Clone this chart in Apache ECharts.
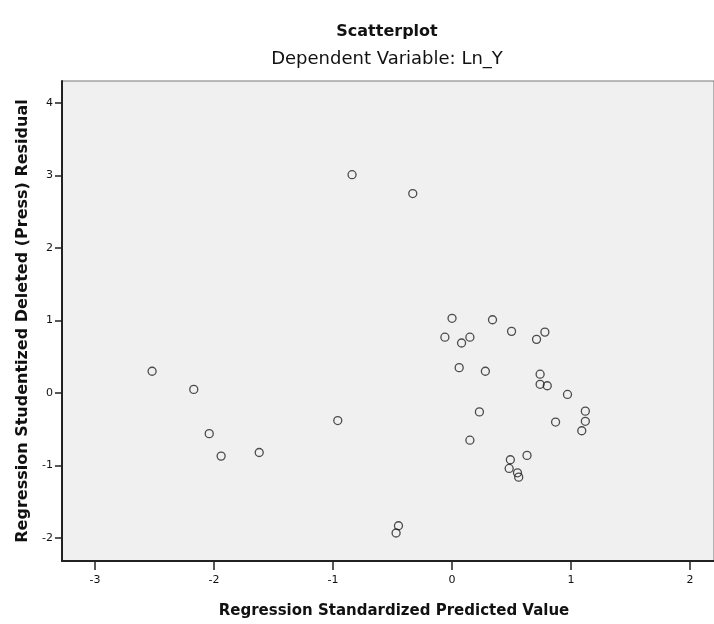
<!DOCTYPE html>
<html>
<head>
<meta charset="utf-8">
<script src="https://cdn.jsdelivr.net/npm/echarts@6/dist/echarts.min.js"></script>
<style>
html, body { margin: 0; padding: 0; background: #fff; }
#main { width: 714px; height: 624px; }
</style>
</head>
<body>
<div id="main"></div>
<script>
// standardized predicted value (x) and studentized deleted residual (y)
var predicted = [-0.84, -0.33, -2.52, -2.17, -2.04, -1.94, -1.62, -0.96, -0.45, -0.47,
    0.00, 0.34, -0.06, 0.08, 0.15, 0.50, 0.71, 0.78, 0.06, 0.28,
    0.74, 0.74, 0.80, 0.97, 0.23, 0.87, 1.12, 1.12, 1.09, 0.15,
    0.63, 0.49, 0.48, 0.55, 0.56];
var residual = [3.01, 2.75, 0.30, 0.05, -0.56, -0.87, -0.82, -0.38, -1.83, -1.93,
    1.03, 1.01, 0.77, 0.69, 0.77, 0.85, 0.74, 0.84, 0.35, 0.30,
    0.26, 0.12, 0.10, -0.02, -0.26, -0.40, -0.25, -0.39, -0.52, -0.65,
    -0.86, -0.92, -1.04, -1.10, -1.16];
var xTicks = [-3, -2, -1, 0, 1, 2];
var yTicks = [-2, -1, 0, 1, 2, 3, 4];

var points = [];
for (var i = 0; i < predicted.length; i++) {
    points.push([predicted[i], residual[i]]);
}

var myChart = echarts.init(document.getElementById('main'));
var option = {
    animation: false,
    textStyle: { fontFamily: 'DejaVu Sans, sans-serif' },
    title: [{
        text: 'Scatterplot',
        left: 382,
        textAlign: 'center',
        top: 19,
        textStyle: { fontSize: 16, fontWeight: 'bold', color: '#111', fontFamily: 'DejaVu Sans' }
    }, {
        text: 'Dependent Variable: Ln_Y',
        left: 382,
        textAlign: 'center',
        top: 45,
        textStyle: { fontSize: 18, fontWeight: 'normal', color: '#111', fontFamily: 'DejaVu Sans' }
    }],
    grid: {
        left: 62, right: -2, top: 81, bottom: 61,
        show: true,
        backgroundColor: '#f0f0f0',
        borderColor: '#777',
        borderWidth: 1
    },
    xAxis: {
        type: 'value',
        min: -3.277,
        max: 2.201,
        name: 'Regression Standardized Predicted Value',
        nameLocation: 'middle',
        nameGap: 43,
        nameTextStyle: { fontSize: 15, fontWeight: 'bold', color: '#111', padding: [0, 0, 0, 12] },
        axisLine: { show: true, onZero: false, lineStyle: { color: '#222', width: 2 } },
        axisTick: { show: true, customValues: xTicks, length: 9, lineStyle: { color: '#222', width: 1.5 } },
        axisLabel: { customValues: xTicks, margin: 14, fontSize: 11, color: '#111' },
        splitLine: { show: false }
    },
    yAxis: {
        type: 'value',
        min: -2.316,
        max: 4.302,
        name: 'Regression Studentized Deleted (Press) Residual',
        nameLocation: 'middle',
        nameGap: 31,
        nameTextStyle: { fontSize: 16, fontWeight: 'bold', color: '#111' },
        axisLine: { show: true, onZero: false, lineStyle: { color: '#222', width: 2 } },
        axisTick: { show: true, customValues: yTicks, length: 7, lineStyle: { color: '#222', width: 1.5 } },
        axisLabel: { customValues: yTicks, margin: 9, fontSize: 11, color: '#111' },
        splitLine: { show: false }
    },
    series: [{
        type: 'scatter',
        data: points,
        symbol: 'circle',
        symbolSize: 8,
        itemStyle: { color: 'rgba(0,0,0,0)', borderColor: '#222', borderWidth: 1.3 }
    }]
};
myChart.setOption(option);
</script>
</body>
</html>
